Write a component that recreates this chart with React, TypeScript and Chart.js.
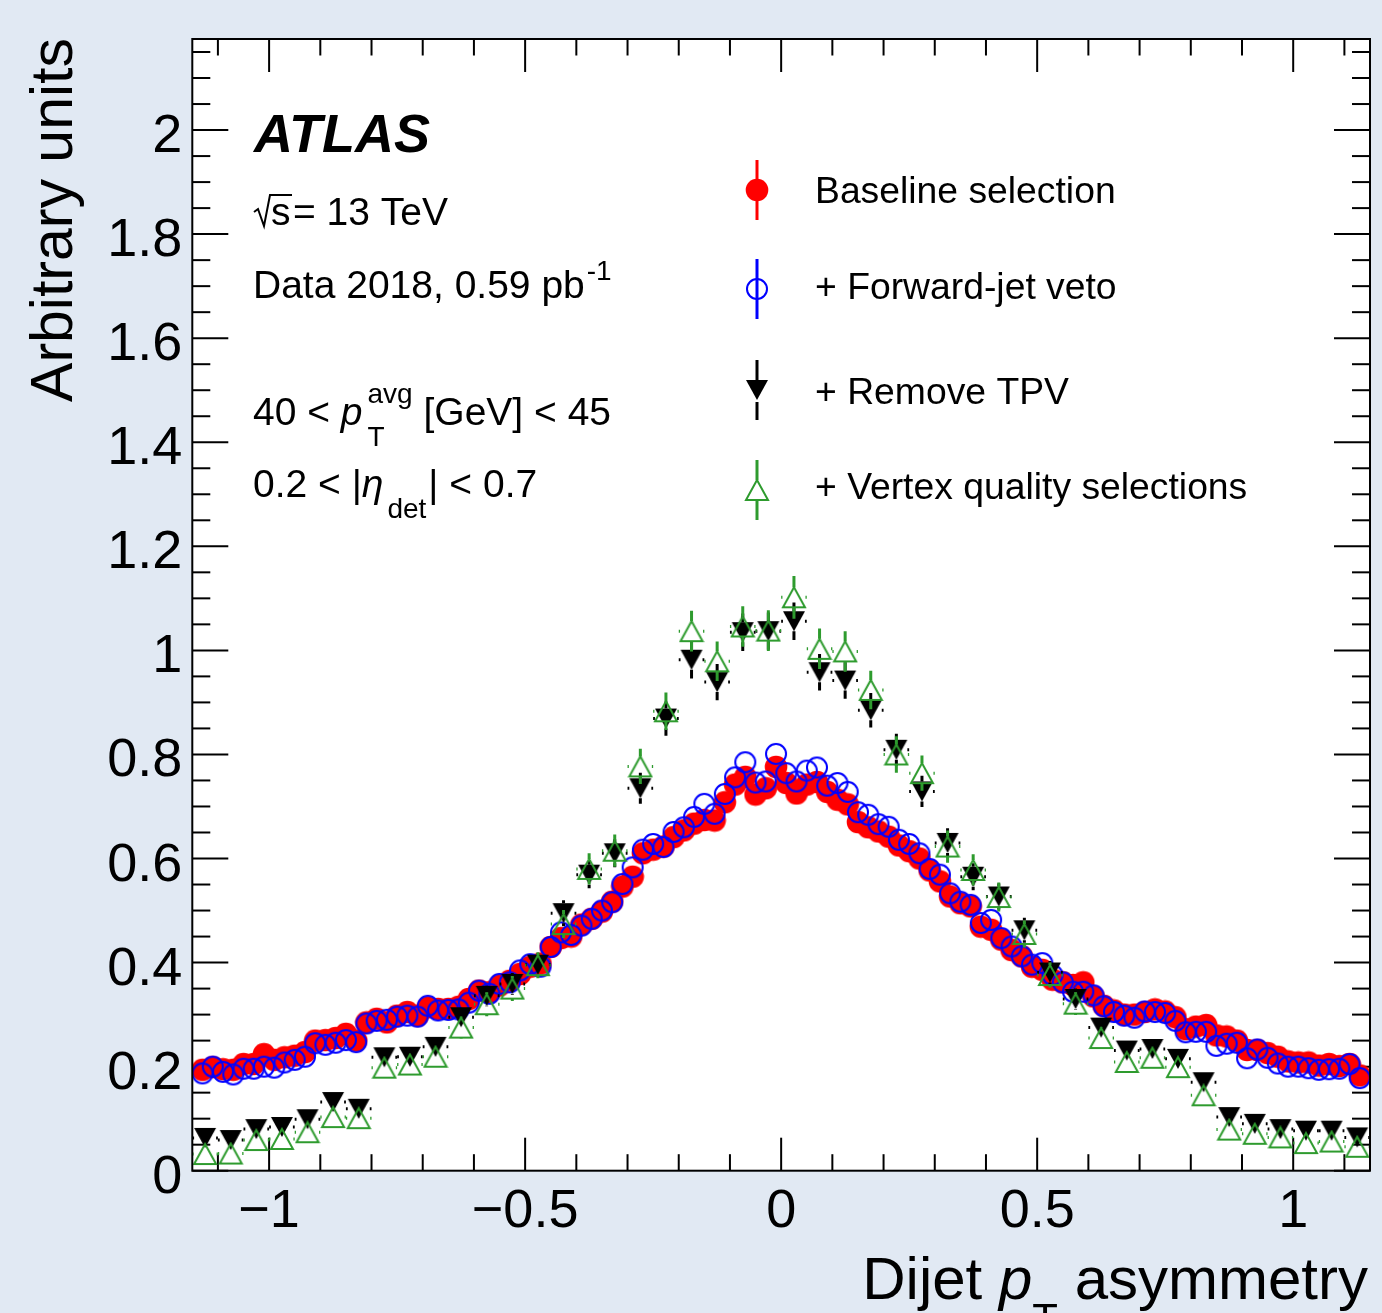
import React, { useEffect, useRef } from 'react';
import { Chart, registerables } from 'chart.js';

Chart.register(...registerables);

// ---------------- data ----------------
const FINE_X = [
  -1.13, -1.11, -1.09, -1.07, -1.05, -1.03, -1.01, -0.99, -0.97, -0.95, -0.93, -0.91, -0.89, -0.87, -0.85,
  -0.83, -0.81, -0.79, -0.77, -0.75, -0.73, -0.71, -0.69, -0.67, -0.65, -0.63, -0.61, -0.59, -0.57, -0.55,
  -0.53, -0.51, -0.49, -0.47, -0.45, -0.43, -0.41, -0.39, -0.37, -0.35, -0.33, -0.31, -0.29, -0.27, -0.25,
  -0.23, -0.21, -0.19, -0.17, -0.15, -0.13, -0.11, -0.09, -0.07, -0.05, -0.03, -0.01,
  0.01, 0.03, 0.05, 0.07, 0.09, 0.11, 0.13, 0.15, 0.17, 0.19, 0.21, 0.23, 0.25, 0.27, 0.29, 0.31, 0.33,
  0.35, 0.37, 0.39, 0.41, 0.43, 0.45, 0.47, 0.49, 0.51, 0.53, 0.55, 0.57, 0.59, 0.61, 0.63, 0.65, 0.67,
  0.69, 0.71, 0.73, 0.75, 0.77, 0.79, 0.81, 0.83, 0.85, 0.87, 0.89, 0.91, 0.93, 0.95, 0.97, 0.99, 1.01,
  1.03, 1.05, 1.07, 1.09, 1.11, 1.13,
];

const BASELINE = [
  0.194, 0.199, 0.195, 0.194, 0.205, 0.205, 0.224, 0.213, 0.218, 0.221, 0.228, 0.250, 0.251, 0.255, 0.263,
  0.250, 0.285, 0.292, 0.285, 0.298, 0.305, 0.298, 0.314, 0.311, 0.311, 0.315, 0.330, 0.346, 0.343, 0.356,
  0.365, 0.378, 0.392, 0.398, 0.430, 0.447, 0.450, 0.473, 0.484, 0.498, 0.517, 0.546, 0.565, 0.610, 0.617,
  0.623, 0.641, 0.654, 0.667, 0.674, 0.673, 0.708, 0.742, 0.757, 0.723, 0.735, 0.776,
  0.745, 0.725, 0.742, 0.747, 0.728, 0.713, 0.704, 0.670, 0.660, 0.652, 0.642, 0.625, 0.614, 0.600, 0.577,
  0.556, 0.527, 0.514, 0.508, 0.469, 0.463, 0.444, 0.424, 0.412, 0.392, 0.386, 0.367, 0.362, 0.357, 0.362,
  0.335, 0.317, 0.308, 0.300, 0.300, 0.305, 0.310, 0.306, 0.295, 0.272, 0.277, 0.280, 0.260, 0.258, 0.250,
  0.232, 0.232, 0.226, 0.219, 0.210, 0.208, 0.208, 0.202, 0.205, 0.201, 0.205, 0.183,
];

const FWD_VETO = [
  0.187, 0.200, 0.190, 0.185, 0.196, 0.196, 0.200, 0.198, 0.208, 0.213, 0.219, 0.245, 0.242, 0.246, 0.251,
  0.247, 0.283, 0.288, 0.290, 0.296, 0.298, 0.296, 0.317, 0.308, 0.309, 0.310, 0.323, 0.346, 0.340, 0.359,
  0.362, 0.385, 0.397, 0.392, 0.430, 0.458, 0.453, 0.471, 0.484, 0.500, 0.516, 0.551, 0.583, 0.617, 0.628,
  0.622, 0.651, 0.660, 0.680, 0.705, 0.686, 0.724, 0.756, 0.785, 0.746, 0.748, 0.801,
  0.764, 0.748, 0.769, 0.775, 0.740, 0.745, 0.728, 0.689, 0.684, 0.666, 0.661, 0.636, 0.628, 0.610, 0.580,
  0.569, 0.533, 0.517, 0.511, 0.476, 0.482, 0.447, 0.431, 0.412, 0.396, 0.399, 0.376, 0.362, 0.344, 0.344,
  0.337, 0.316, 0.305, 0.298, 0.294, 0.306, 0.305, 0.303, 0.288, 0.266, 0.267, 0.267, 0.240, 0.244, 0.246,
  0.216, 0.233, 0.217, 0.206, 0.200, 0.200, 0.197, 0.194, 0.195, 0.196, 0.205, 0.178,
];

const COARSE_X = [
  -1.125, -1.075, -1.025, -0.975, -0.925, -0.875, -0.825, -0.775, -0.725, -0.675, -0.625, -0.575,
  -0.525, -0.475, -0.425, -0.375, -0.325, -0.275, -0.225, -0.175, -0.125, -0.075, -0.025,
  0.025, 0.075, 0.125, 0.175, 0.225, 0.275, 0.325, 0.375, 0.425, 0.475, 0.525, 0.575, 0.625,
  0.675, 0.725, 0.775, 0.825, 0.875, 0.925, 0.975, 1.025, 1.075, 1.125,
];

const REMOVE_TPV = [
  0.063, 0.059, 0.080, 0.084, 0.099, 0.132, 0.119, 0.218, 0.219, 0.238, 0.295, 0.336,
  0.359, 0.396, 0.495, 0.569, 0.610, 0.735, 0.869, 0.982, 0.939, 1.035, 1.037,
  1.056, 0.958, 0.942, 0.885, 0.809, 0.729, 0.630, 0.565, 0.527, 0.462, 0.381, 0.330, 0.275,
  0.231, 0.234, 0.215, 0.170, 0.103, 0.090, 0.080, 0.077, 0.077, 0.064,
];
const REMOVE_TPV_ERR = [
  0.009, 0.009, 0.010, 0.010, 0.011, 0.013, 0.012, 0.016, 0.016, 0.017, 0.019, 0.020,
  0.021, 0.022, 0.025, 0.026, 0.027, 0.030, 0.033, 0.036, 0.035, 0.036, 0.036,
  0.036, 0.035, 0.035, 0.033, 0.031, 0.030, 0.028, 0.026, 0.025, 0.024, 0.022, 0.020, 0.018,
  0.017, 0.017, 0.016, 0.014, 0.011, 0.010, 0.010, 0.010, 0.010, 0.009,
];

const VTX_QUAL = [
  0.032, 0.033, 0.059, 0.061, 0.074, 0.103, 0.101, 0.198, 0.204, 0.219, 0.275, 0.320,
  0.350, 0.395, 0.474, 0.580, 0.615, 0.777, 0.883, 1.037, 0.979, 1.046, 1.038,
  1.102, 1.003, 0.998, 0.924, 0.800, 0.764, 0.623, 0.578, 0.526, 0.455, 0.376, 0.321, 0.255,
  0.209, 0.217, 0.199, 0.145, 0.079, 0.071, 0.064, 0.053, 0.056, 0.046,
];
const VTX_QUAL_ERR = [
  0.008, 0.008, 0.010, 0.010, 0.011, 0.013, 0.013, 0.018, 0.018, 0.019, 0.021, 0.023,
  0.024, 0.025, 0.027, 0.030, 0.031, 0.034, 0.036, 0.039, 0.038, 0.039, 0.039,
  0.041, 0.039, 0.039, 0.037, 0.035, 0.034, 0.031, 0.030, 0.028, 0.026, 0.024, 0.022, 0.020,
  0.018, 0.018, 0.018, 0.015, 0.011, 0.011, 0.010, 0.009, 0.009, 0.008,
];

const SERIES_NAMES = ['Baseline selection', '+ Forward-jet veto', '+ Remove TPV', '+ Vertex quality selections'];

const X_MAJOR = [-1, -0.5, 0, 0.5, 1];
const X_MAJOR_LABELS = ['\u22121', '\u22120.5', '0', '0.5', '1'];
const X_MINOR = [-1.1, -0.9, -0.8, -0.7, -0.6, -0.4, -0.3, -0.2, -0.1, 0.1, 0.2, 0.3, 0.4, 0.6, 0.7, 0.8, 0.9, 1.1];
const Y_MAJOR = [0, 0.2, 0.4, 0.6, 0.8, 1, 1.2, 1.4, 1.6, 1.8, 2];
const Y_MAJOR_LABELS = ['0', '0.2', '0.4', '0.6', '0.8', '1', '1.2', '1.4', '1.6', '1.8', '2'];
const Y_MINOR = [
  0.05, 0.1, 0.15, 0.25, 0.3, 0.35, 0.45, 0.5, 0.55, 0.65, 0.7, 0.75, 0.85, 0.9, 0.95, 1.05, 1.1, 1.15,
  1.25, 1.3, 1.35, 1.45, 1.5, 1.55, 1.65, 1.7, 1.75, 1.85, 1.9, 1.95, 2.05, 2.1, 2.15,
];

// ---------------- styles ----------------
const W = 1382;
const H = 1313;
const BG = '#e1e9f3';
const RED = '#ff0000';
const BLUE = '#0000ff';
const BLACK = '#000000';
const GREEN = '#2e9b2e';
const FONT = '"Liberation Sans", Arial, Helvetica, sans-serif';

function makeMarker(kind: string): HTMLCanvasElement {
  const c = document.createElement('canvas');
  if (kind === 'red') {
    c.width = 24; c.height = 24;
    const g = c.getContext('2d')!;
    g.fillStyle = RED;
    g.beginPath(); g.arc(12, 12, 11.3, 0, Math.PI * 2); g.fill();
  } else if (kind === 'blue') {
    c.width = 24; c.height = 24;
    const g = c.getContext('2d')!;
    g.strokeStyle = BLUE; g.lineWidth = 2;
    g.beginPath(); g.arc(12, 12, 10, 0, Math.PI * 2); g.stroke();
  } else if (kind === 'black') {
    c.width = 24; c.height = 22;
    const g = c.getContext('2d')!;
    g.fillStyle = BLACK;
    g.beginPath(); g.moveTo(1, 1); g.lineTo(23, 1); g.lineTo(12, 21); g.closePath(); g.fill();
  } else {
    c.width = 26; c.height = 24;
    const g = c.getContext('2d')!;
    g.strokeStyle = GREEN; g.lineWidth = 2;
    g.beginPath(); g.moveTo(13, 2); g.lineTo(2, 22); g.lineTo(24, 22); g.closePath(); g.stroke();
  }
  return c;
}

type Seg = { t: string; f: string; dy?: number };
function drawRich(ctx: CanvasRenderingContext2D, segs: Seg[], x: number, y: number) {
  let cx = x;
  for (const s of segs) {
    ctx.font = s.f;
    ctx.fillText(s.t, cx, y + (s.dy || 0));
    cx += ctx.measureText(s.t).width;
  }
  return cx;
}
function richWidth(ctx: CanvasRenderingContext2D, segs: Seg[]) {
  let w = 0;
  for (const s of segs) { ctx.font = s.f; w += ctx.measureText(s.t).width; }
  return w;
}

export default function App() {
  const ref = useRef<HTMLCanvasElement | null>(null);

  useEffect(() => {
    document.body.style.margin = '0';
    const canvas = ref.current!;
    const mk = {
      red: makeMarker('red'),
      blue: makeMarker('blue'),
      black: makeMarker('black'),
      green: makeMarker('green'),
    };

    const line = (ctx: CanvasRenderingContext2D, x1: number, y1: number, x2: number, y2: number) => {
      ctx.beginPath(); ctx.moveTo(x1, y1); ctx.lineTo(x2, y2); ctx.stroke();
    };

    const plugin = {
      id: 'atlasStyle',
      beforeDraw(chart: any) {
        const { ctx, chartArea: a } = chart;
        ctx.save();
        ctx.fillStyle = BG;
        ctx.fillRect(0, 0, chart.width, chart.height);
        ctx.fillStyle = '#ffffff';
        ctx.fillRect(a.left, a.top, a.right - a.left, a.bottom - a.top);
        ctx.restore();
      },
      beforeDatasetsDraw(chart: any) {
        const { ctx, chartArea: a } = chart;
        const xs = chart.scales.x, ys = chart.scales.y;
        ctx.save();
        ctx.strokeStyle = '#000'; ctx.lineWidth = 2;
        for (const v of X_MINOR) {
          const px = xs.getPixelForValue(v);
          line(ctx, px, a.bottom, px, a.bottom - 16.5);
          line(ctx, px, a.top, px, a.top + 16.5);
        }
        for (const v of X_MAJOR) {
          const px = xs.getPixelForValue(v);
          line(ctx, px, a.bottom, px, a.bottom - 33);
          line(ctx, px, a.top, px, a.top + 33);
        }
        for (const v of Y_MINOR) {
          const py = ys.getPixelForValue(v);
          line(ctx, a.left, py, a.left + 18, py);
          line(ctx, a.right, py, a.right - 18, py);
        }
        for (const v of Y_MAJOR) {
          const py = ys.getPixelForValue(v);
          line(ctx, a.left, py, a.left + 36, py);
          line(ctx, a.right, py, a.right - 36, py);
        }
        ctx.restore();
      },
      beforeDatasetDraw(chart: any, args: any) {
        const ds = chart.data.datasets[args.index];
        if (!ds.errY) return;
        const { ctx, chartArea: a } = chart;
        const xs = chart.scales.x, ys = chart.scales.y;
        ctx.save();
        ctx.beginPath(); ctx.rect(a.left, a.top, a.right - a.left, a.bottom - a.top); ctx.clip();
        ctx.strokeStyle = ds.barColor;
        ctx.lineWidth = 3;
        ds.data.forEach((p: any, k: number) => {
          const px = xs.getPixelForValue(p.x);
          const py = ys.getPixelForValue(p.y);
          const top = ys.getPixelForValue(p.y + ds.errY[k]);
          const bot = ys.getPixelForValue(p.y - ds.errY[k]);
          const left = xs.getPixelForValue(p.x - ds.halfBin);
          const right = xs.getPixelForValue(p.x + ds.halfBin);
          ctx.setLineDash(ds.dash);
          if (top < py - ds.mh) line(ctx, px, py - ds.mh, px, top);
          if (bot > py + ds.mh) line(ctx, px, py + ds.mh, px, bot);
          ctx.setLineDash([]);
          if (left < px - ds.mw) line(ctx, left, py, px - ds.mw, py);
          if (right > px + ds.mw) line(ctx, px + ds.mw, py, right, py);
        });
        ctx.restore();
      },
      afterDraw(chart: any) {
        const { ctx, chartArea: a } = chart;
        const xs = chart.scales.x, ys = chart.scales.y;
        ctx.save();
        // frame
        ctx.strokeStyle = '#000'; ctx.lineWidth = 2;
        ctx.strokeRect(a.left, a.top, a.right - a.left, a.bottom - a.top);

        ctx.fillStyle = '#000';
        // tick labels
        ctx.font = `54px ${FONT}`;
        ctx.textBaseline = 'alphabetic';
        ctx.textAlign = 'right';
        Y_MAJOR.forEach((v, k) => {
          ctx.fillText(Y_MAJOR_LABELS[k], a.left - 10, ys.getPixelForValue(v) + 22);
        });
        ctx.textAlign = 'center';
        X_MAJOR.forEach((v, k) => {
          ctx.fillText(X_MAJOR_LABELS[k], xs.getPixelForValue(v), 1227);
        });

        // axis titles
        ctx.textAlign = 'left';
        const xt: Seg[] = [
          { t: 'Dijet ', f: `60px ${FONT}` },
          { t: 'p', f: `italic 60px ${FONT}` },
          { t: 'T', f: `42px ${FONT}`, dy: 34 },
          { t: ' asymmetry', f: `60px ${FONT}` },
        ];
        drawRich(ctx, xt, a.right - 2 - richWidth(ctx, xt), 1299);

        ctx.save();
        ctx.translate(72, a.top - 1);
        ctx.rotate(-Math.PI / 2);
        ctx.textAlign = 'right';
        ctx.font = `59px ${FONT}`;
        ctx.fillText('Arbitrary units', 0, 0);
        ctx.restore();

        // ATLAS label
        ctx.textAlign = 'left';
        ctx.font = `italic bold 54px ${FONT}`;
        ctx.fillText('ATLAS', 254, 152);

        // sqrt(s)
        const f39 = `39px ${FONT}`;
        const f28 = `28px ${FONT}`;
        ctx.lineWidth = 2;
        ctx.strokeStyle = '#000';
        ctx.beginPath();
        ctx.moveTo(254, 212); ctx.lineTo(258, 209); ctx.lineTo(264, 226); ctx.lineTo(270, 195); ctx.lineTo(292, 195);
        ctx.stroke();
        ctx.font = f39;
        ctx.fillText('s', 271, 225);
        ctx.fillText('= 13 TeV', 293, 225);

        const x2 = drawRich(ctx, [{ t: 'Data 2018, 0.59 pb', f: f39 }], 253, 298);
        drawRich(ctx, [{ t: '-1', f: f28, dy: -18 }], x2 + 2, 298);

        // pT avg line
        let cx = drawRich(ctx, [{ t: '40 < ', f: f39 }, { t: 'p', f: `italic ${f39}` }], 253, 425);
        ctx.font = f28;
        ctx.fillText('avg', cx + 5, 425 - 22);
        ctx.fillText('T', cx + 5, 425 + 21);
        const wAvg = ctx.measureText('avg').width;
        drawRich(ctx, [{ t: ' [GeV] < 45', f: f39 }], cx + 5 + wAvg, 425);

        // eta line
        cx = drawRich(ctx, [{ t: '0.2 < |', f: f39 }, { t: '\u03b7', f: `italic ${f39}` }], 253, 497);
        cx = drawRich(ctx, [{ t: 'det', f: f28, dy: 21 }], cx + 4, 497);
        drawRich(ctx, [{ t: '| < 0.7', f: f39 }], cx + 2, 497);

        // legend
        const LX = 757;
        const rows = [190, 289, 390, 490];
        const bases = [203, 299, 404, 499];
        const cols = [RED, BLUE, BLACK, GREEN];
        const imgs = [mk.red, mk.blue, mk.black, mk.green];
        rows.forEach((ry, k) => {
          ctx.strokeStyle = cols[k];
          ctx.lineWidth = 3;
          if (k === 2) {
            line(ctx, LX, ry - 30, LX, ry - 8);
            line(ctx, LX, ry + 12, LX, ry + 30);
          } else if (k === 3) {
            line(ctx, LX, ry - 30, LX, ry - 10);
            line(ctx, LX, ry + 10, LX, ry + 30);
          } else {
            line(ctx, LX, ry - 30, LX, ry + 30);
          }
          const im = imgs[k];
          ctx.drawImage(im, LX - im.width / 2, ry - im.height / 2);
          ctx.font = `37.3px ${FONT}`;
          ctx.fillStyle = '#000';
          ctx.fillText(SERIES_NAMES[k], 815, bases[k]);
        });
        ctx.restore();
      },
    };

    const toPts = (xs: number[], ys: number[]) => xs.map((x, i) => ({ x, y: ys[i] }));

    const chart = new Chart(canvas, {
      type: 'scatter',
      data: {
        datasets: [
          {
            label: SERIES_NAMES[0], data: toPts(FINE_X, BASELINE), order: 4,
            pointStyle: mk.red, pointRadius: 11, showLine: false,
          } as any,
          {
            label: SERIES_NAMES[1], data: toPts(FINE_X, FWD_VETO), order: 3,
            pointStyle: mk.blue, pointRadius: 11, showLine: false,
          } as any,
          {
            label: SERIES_NAMES[2], data: toPts(COARSE_X, REMOVE_TPV), order: 2,
            pointStyle: mk.black, pointRadius: 11, showLine: false,
            errY: REMOVE_TPV_ERR, halfBin: 0.025, barColor: BLACK, dash: [12, 7], mh: 10, mw: 11,
          } as any,
          {
            label: SERIES_NAMES[3], data: toPts(COARSE_X, VTX_QUAL), order: 1,
            pointStyle: mk.green, pointRadius: 11, showLine: false,
            errY: VTX_QUAL_ERR, halfBin: 0.025, barColor: GREEN, dash: [], mh: 10, mw: 11.5,
          } as any,
        ],
      },
      options: {
        responsive: false,
        animation: false,
        devicePixelRatio: 1,
        events: [],
        layout: { padding: { left: 0, right: 9.7, top: 39, bottom: 0 } },
        plugins: { legend: { display: false }, tooltip: { enabled: false }, title: { display: false } },
        scales: {
          x: {
            type: 'linear', min: -1.15, max: 1.15,
            grid: { display: false, drawTicks: false }, border: { display: false },
            ticks: { display: false },
            afterFit: (s: any) => { s.height = H - 1170.7; },
          },
          y: {
            type: 'linear', min: 0, max: 2.175,
            grid: { display: false, drawTicks: false }, border: { display: false },
            ticks: { display: false },
            afterFit: (s: any) => { s.width = 192.3; },
          },
        },
      },
      plugins: [plugin],
    } as any);

    return () => chart.destroy();
  }, []);

  return (
    <div style={{ position: 'absolute', left: 0, top: 0, width: W, height: H, background: BG }}>
      <canvas ref={ref} width={W} height={H} style={{ display: 'block', width: W, height: H }} />
    </div>
  );
}
